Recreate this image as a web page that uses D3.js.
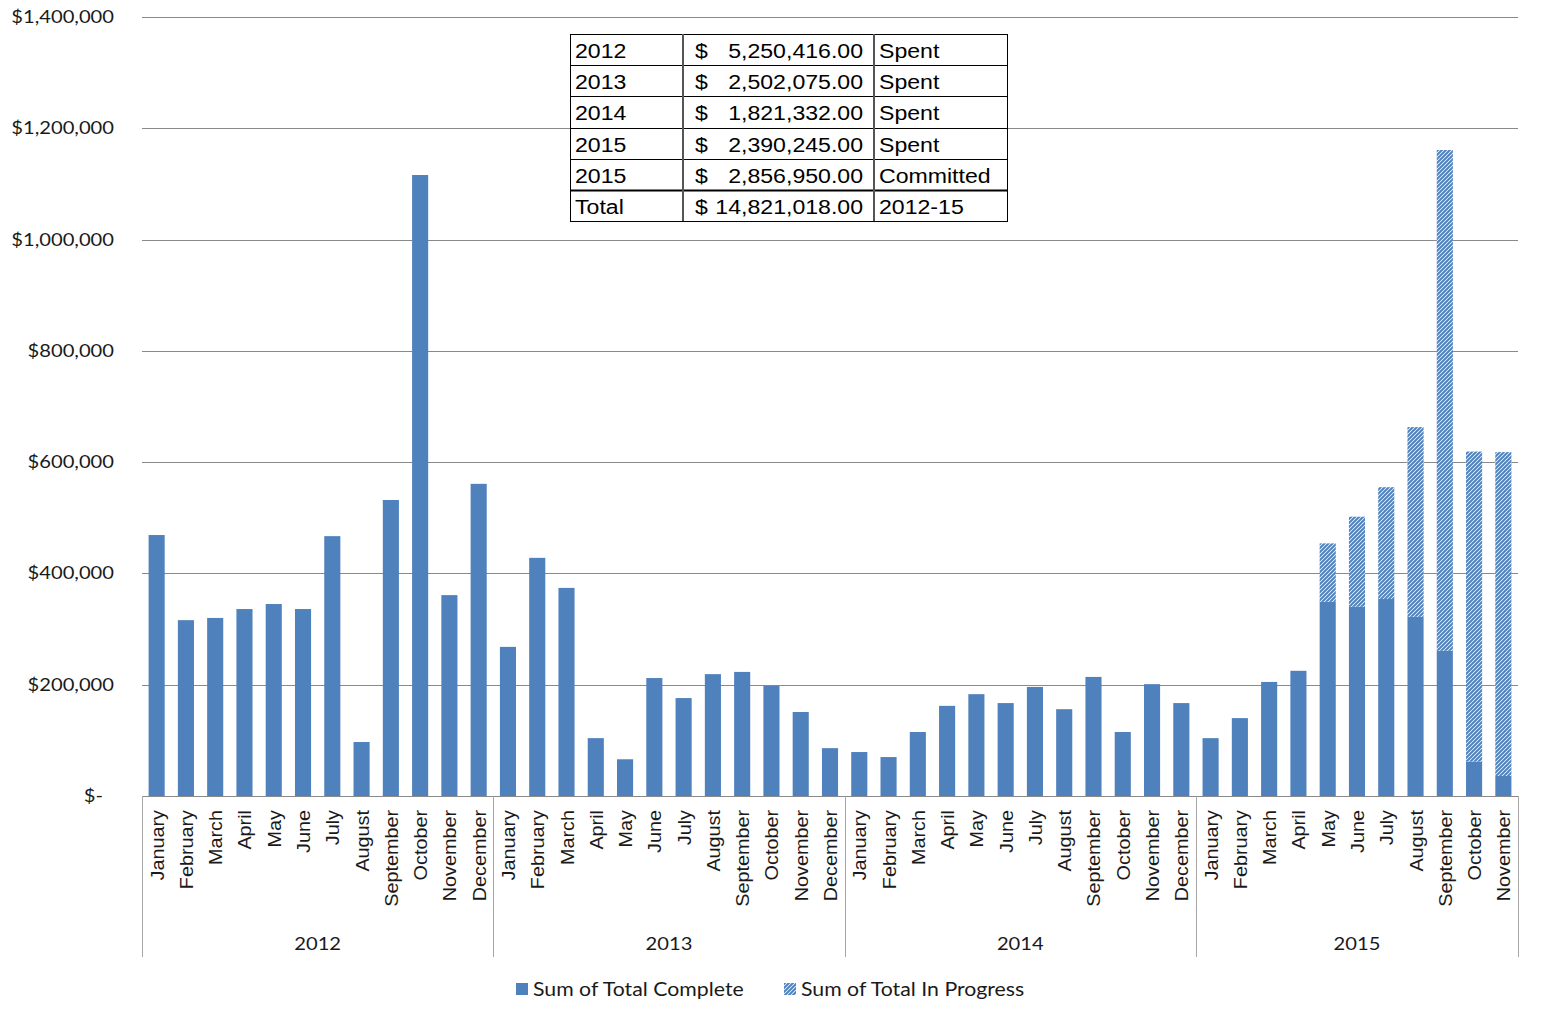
<!DOCTYPE html>
<html>
<head>
<meta charset="utf-8">
<title>Spend by Month 2012-15</title>
<script src="https://d3js.org/d3.v7.min.js"></script>
<style>
  body { margin: 0; background: #fff; }
  svg text { font-family: Lato, "Open Sans", sans-serif; fill: #1a1a1a; }
  .arial { font-family: "Liberation Sans", Arial, sans-serif; }
  .tbl text { font-family: "Liberation Sans", Arial, sans-serif; fill: #000; }
</style>
</head>
<body>
<svg id="chart" width="1541" height="1024"></svg>
<script>
// ---- data ----
const years = ["2012", "2013", "2014", "2015"];
const months = ["January", "February", "March", "April", "May", "June", "July",
                "August", "September", "October", "November", "December"];

const complete2012 = [469000, 316000, 320000, 336000, 345000, 336000, 467000, 97000, 532000, 1116000, 361000, 561000];
const complete2013 = [268000, 428000, 374000, 104000, 66000, 212000, 176000, 219000, 223000, 198000, 151000, 86000];
const complete2014 = [79000, 70000, 115000, 162000, 183000, 167000, 196000, 156000, 214000, 115000, 201000, 167000];
const complete2015 = [104000, 140000, 205000, 225000, 349000, 340000, 354000, 322000, 261000, 62000, 36000];
const inProgress2015 = [0, 0, 0, 0, 105000, 162000, 201000, 341000, 900000, 557000, 582000];

const yTicks = [0, 200000, 400000, 600000, 800000, 1000000, 1200000, 1400000];
const seriesNames = ["Sum of Total Complete", "Sum of Total In Progress"];

const tableYears = ["2012", "2013", "2014", "2015", "2015", "Total"];
const tableAmounts = [5250416, 2502075, 1821332, 2390245, 2856950, 14821018];
const tableNotes = ["Spent", "Spent", "Spent", "Spent", "Committed", "2012-15"];

// ---- build rows ----
const completeByYear = [complete2012, complete2013, complete2014, complete2015];
const rows = [];
years.forEach((yr, yi) => {
  completeByYear[yi].forEach((v, mi) => {
    rows.push({
      key: yr + "-" + mi,
      year: yr,
      month: months[mi],
      complete: v,
      progress: yr === "2015" ? inProgress2015[mi] : 0
    });
  });
});

const blue = "#4f81bd";
const svg = d3.select("#chart");
const plotLeft = 142, plotRight = 1518, plotTop = 17, plotBase = 796;
const stretch = 1.12; // the original text is drawn a little wide

const x = d3.scaleBand()
  .domain(rows.map(d => d.key))
  .range([plotLeft, plotRight])
  .paddingInner(0.45)
  .paddingOuter(0.225);

const y = d3.scaleLinear()
  .domain([0, 1400000])
  .range([plotBase, plotTop]);

// pattern for in-progress bars
const defs = svg.append("defs");
const pat = defs.append("pattern")
  .attr("id", "hatch")
  .attr("patternUnits", "userSpaceOnUse")
  .attr("width", 4).attr("height", 4);
pat.append("rect").attr("width", 4).attr("height", 4).attr("fill", "#fff");
pat.append("path")
  .attr("d", "M-1,1 l2,-2 M0,4 l4,-4 M3,5 l2,-2")
  .attr("stroke", blue).attr("stroke-width", 2);

// gridlines
svg.append("g")
  .selectAll("line")
  .data(yTicks.slice(1))
  .join("line")
  .attr("x1", plotLeft).attr("x2", plotRight)
  .attr("y1", d => Math.round(y(d)) + 0.5).attr("y2", d => Math.round(y(d)) + 0.5)
  .attr("stroke", "#8a8a8a").attr("stroke-width", 1);

// y axis labels
const fmt = d3.format("$,");
svg.append("g")
  .selectAll("text")
  .data(yTicks)
  .join("text")
  .attr("transform", d => `translate(${d === 0 ? 103 : 114},${y(d) + 6}) scale(${stretch},1)`)
  .attr("text-anchor", "end")
  .style("font-size", "18px")
  .text(d => d === 0 ? "$-" : fmt(d));

// stacked bars
const stack = d3.stack().keys(["complete", "progress"]);
const layers = stack(rows);

svg.append("g")
  .selectAll("g")
  .data(layers)
  .join("g")
  .attr("fill", (d, i) => i === 0 ? blue : "url(#hatch)")
  .selectAll("rect")
  .data(d => d.map(p => ({ p, key: p.data.key })))
  .join("rect")
  .attr("x", d => x(d.key))
  .attr("width", x.bandwidth())
  .attr("y", d => y(d.p[1]))
  .attr("height", d => y(d.p[0]) - y(d.p[1]));

// category axis
const step = x.step();
const pad = step * x.paddingOuter();
svg.append("line")
  .attr("x1", plotLeft).attr("x2", plotRight)
  .attr("y1", plotBase + 0.5).attr("y2", plotBase + 0.5)
  .attr("stroke", "#8a8a8a");

const bounds = [0, 12, 24, 36].map(i => x(rows[i].key) - pad).concat([plotRight]);
svg.append("g")
  .selectAll("line")
  .data(bounds)
  .join("line")
  .attr("x1", d => Math.round(d) + 0.5).attr("x2", d => Math.round(d) + 0.5)
  .attr("y1", plotBase).attr("y2", 957)
  .attr("stroke", "#a6a6a6");

svg.append("g")
  .selectAll("text")
  .data(rows)
  .join("text")
  .attr("class", "arial")
  .attr("transform", d => `translate(${x(d.key) + x.bandwidth() / 2 + 7},${plotBase + 14}) rotate(-90) scale(1.1,1)`)
  .attr("text-anchor", "end")
  .style("font-size", "18px")
  .text(d => d.month);

svg.append("g")
  .selectAll("text")
  .data(years)
  .join("text")
  .attr("transform", (d, i) => `translate(${(bounds[i] + bounds[i + 1]) / 2},950) scale(${stretch},1)`)
  .attr("text-anchor", "middle")
  .style("font-size", "18px")
  .text(d => d);

// summary table
const tbl = svg.append("g").attr("class", "tbl");
const tx = [570, 683, 874, 1007];
const ty0 = 34, rh = 31.17;
const money = d3.format(",.2f");
const cell = (px, py, txt, anchor) => tbl.append("text")
  .attr("transform", `translate(${px},${py}) scale(1.1,1)`)
  .attr("text-anchor", anchor || "start")
  .style("font-size", "21px")
  .text(txt);

tbl.append("rect")
  .attr("x", tx[0] + 0.5).attr("y", ty0 + 0.5)
  .attr("width", tx[3] - tx[0]).attr("height", rh * 6)
  .attr("fill", "#fff").attr("stroke", "#000");

tableYears.forEach((yr, i) => {
  const ry = ty0 + i * rh;
  if (i > 0) {
    tbl.append("line")
      .attr("x1", tx[0]).attr("x2", tx[3])
      .attr("y1", Math.round(ry) + 0.5).attr("y2", Math.round(ry) + 0.5)
      .attr("stroke", "#000").attr("stroke-width", i === 5 ? 2 : 1);
  }
  cell(tx[0] + 5, ry + 24, yr);
  cell(tx[1] + 12, ry + 24, "$");
  cell(tx[2] - 11, ry + 24, money(tableAmounts[i]), "end");
  cell(tx[2] + 5, ry + 24, tableNotes[i]);
});
[tx[1], tx[2]].forEach(cx => {
  tbl.append("line")
    .attr("x1", cx).attr("x2", cx)
    .attr("y1", ty0).attr("y2", ty0 + rh * 6)
    .attr("stroke", "#555").attr("stroke-width", 2);
});

// legend
const legend = svg.append("g");
const legX = [516, 784];
seriesNames.forEach((name, i) => {
  legend.append("rect")
    .attr("x", legX[i]).attr("y", 983)
    .attr("width", 12).attr("height", 12)
    .attr("fill", i === 0 ? blue : "url(#hatch)");
  legend.append("text")
    .attr("transform", `translate(${legX[i] + 17},996) scale(${stretch},1)`)
    .style("font-size", "19px")
    .text(name);
});
</script>
</body>
</html>
